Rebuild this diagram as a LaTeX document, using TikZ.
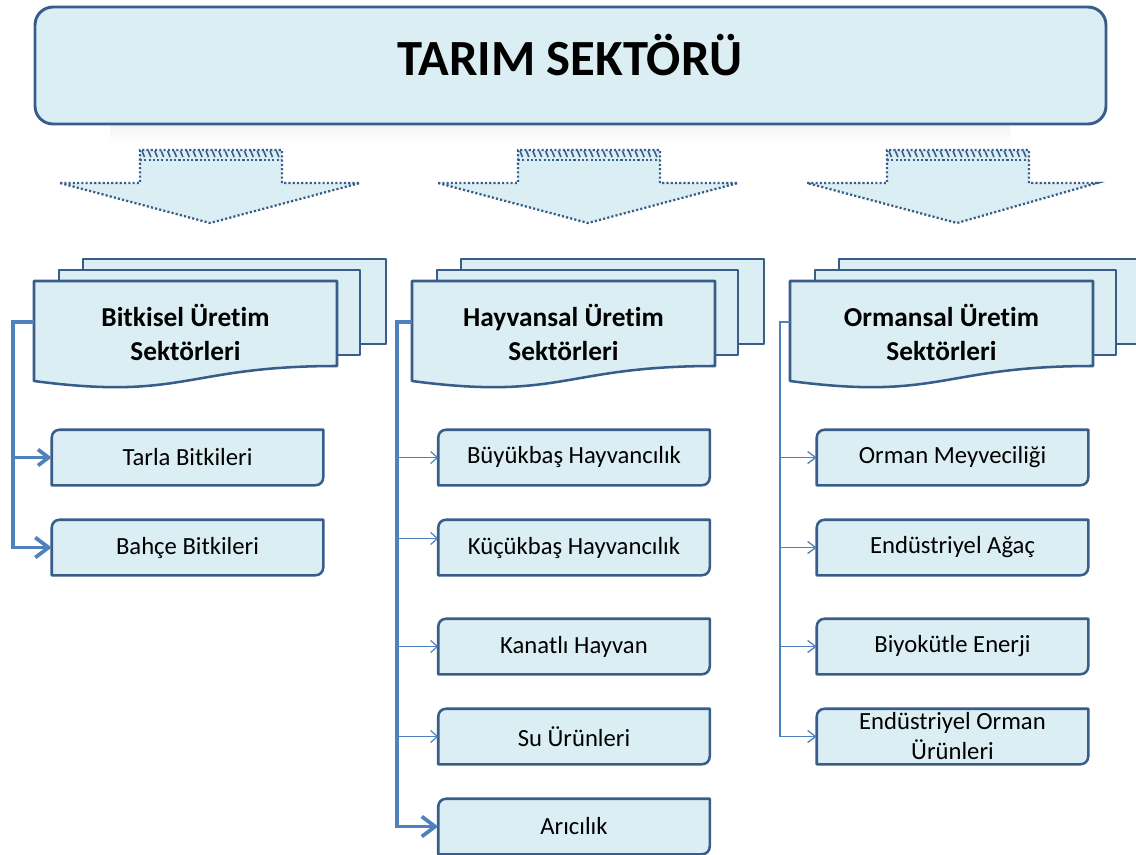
\documentclass[tikz,border=0pt]{standalone}
\usepackage{fontspec}
\setmainfont{Carlito}[Ligatures=NoCommon]
\usetikzlibrary{arrows.meta,calc}
\definecolor{fillc}{HTML}{DBEEF4}
\definecolor{bordc}{HTML}{385D8A}
\definecolor{connc}{HTML}{4F81BD}
\pgfdeclarelayer{bg}
\pgfsetlayers{bg,main}
\tikzset{
  docst/.style={draw=bordc, fill=fillc, line width=1.9pt, line join=round},
  leafst/.style={draw=bordc, fill=fillc, line width=1.9pt, line join=round},
  doctext/.style={font=\fontsize{20.5}{25.5}\selectfont\bfseries, align=center, minimum width=226.5pt, minimum height=76.5pt, inner sep=0pt},
  leaftext/.style={font=\fontsize{18.5}{22.5}\selectfont, align=center, minimum width=203.25pt, minimum height=41.25pt, inner sep=0pt},
  topbox/.style={draw=bordc, fill=fillc, line width=2.2pt, rounded corners=13.5pt, minimum width=803.25pt, minimum height=87.75pt, inner sep=0pt},
  titletext/.style={font=\fontsize{38}{44}\selectfont\bfseries},
  dotline/.style={draw=bordc, fill=fillc, line width=1.7pt, dash pattern=on 1.6pt off 1.6pt, line join=miter},
  hatch/.style={draw=bordc, line width=1.2pt},
  thinc/.style={draw=connc, line width=0.9pt, -{Straight Barb[length=5pt,width=9pt,line width=0.9pt]}},
  thinlc/.style={draw=connc, line width=1.3pt, -{Straight Barb[length=6pt,width=9pt,line width=1pt]}},
  thickc/.style={draw=connc, line width=2.8pt, -{Straight Barb[length=8pt,width=12pt]}},
  bigc/.style={draw=connc, line width=2.8pt, -{Straight Barb[length=10pt,width=15pt]}},
}
\newcommand\docstack[3]{%
  \begin{pgfonlayer}{bg}
    \draw[docst] ({#2+49},259) rectangle ({#2+352},344);
    \draw[docst] ({#2+25},270) rectangle ({#2+326},355);
    \draw[docst] (#2,281) -- ({#2+303},281) -- ({#2+303},366) .. controls ({#2+151},366) and ({#2+151},401) .. (#2,381) -- cycle;
  \end{pgfonlayer}
  \node[doctext] (#1) at ({#2+151.5},332) {#3};}
\newcommand\leaf[4]{%
  \node[leaftext] (#1) at (#2,#3) {#4};
  \begin{pgfonlayer}{bg}
    \draw[leafst] (#1.south west) -- ([yshift=-6pt]#1.north west) .. controls ([yshift=-2.5pt]#1.north west) and ([xshift=2.5pt]#1.north west) .. ([xshift=6pt]#1.north west) -- (#1.north east) -- ([yshift=6pt]#1.south east) .. controls ([yshift=2.5pt]#1.south east) and ([xshift=-2.5pt]#1.south east) .. ([xshift=-6pt]#1.south east) -- cycle;
  \end{pgfonlayer}}
\newcommand\blockarr[2]{%
  \path[dotline] ({#1+60},183) -- ({#1+140},183) -- ({#1+140},150) -- ({#1+282},150) -- ({#1+282},183) -- (#2,183) -- ({#1+210},223) -- cycle;
  \foreach \i in {0,...,21} \draw[hatch] ({#1+142+\i*6.4},151) -- ({#1+144.5+\i*6.4},157);
  \draw[hatch, dash pattern=on 1.6pt off 1.6pt] ({#1+140},160) -- ({#1+282},160);}
\begin{document}
\begin{tikzpicture}[x=0.75pt,y=-0.75pt]
\useasboundingbox (0,0) rectangle (1136,854);
\clip (0,0) rectangle (1136,854);
% faint shadow under the title box
\shade[top color=black!5, bottom color=white] (110,124) rectangle (1010,142);
% title
\node[topbox] (top) at (570.5,65.5) {};
\node[titletext] (title) at (570,55) {TARIM SEKTÖRÜ};
% block arrows
\blockarr{0}{360}
\blockarr{378}{738}
\blockarr{747}{1097}
% sector documents
\docstack{bit}{34}{Bitkisel Üretim\\Sektörleri}
\docstack{hay}{412}{Hayvansal Üretim\\Sektörleri}
\docstack{orm}{790}{Ormansal Üretim\\Sektörleri}
% leaves
\leaf{tarla}{187.5}{457.5}{Tarla Bitkileri}
\leaf{bahce}{187.5}{547.5}{Bahçe Bitkileri}
\leaf{buyuk}{574}{457.5}{Büyükbaş Hayvancılık}
\leaf{kucuk}{574}{547.5}{Küçükbaş Hayvancılık}
\leaf{kanat}{574}{646.5}{Kanatlı Hayvan}
\leaf{su}{574}{736.5}{Su Ürünleri}
\leaf{ari}{574}{826.5}{Arıcılık}
\leaf{meyve}{952.5}{457.5}{Orman Meyveciliği}
\leaf{agac}{952.5}{547.5}{Endüstriyel Ağaç}
\leaf{biyo}{952.5}{646.5}{Biyokütle Enerji}
\leaf{endor}{952.5}{736.5}{Endüstriyel Orman\\Ürünleri}
% connectors column 1
\draw[thickc] ([yshift=7.5pt]bit.west) -- ++(-15.75pt,0) |- (tarla.west);
\draw[bigc] ([yshift=7.5pt]bit.west) -- ++(-15.75pt,0) |- (bahce.west);
% connectors column 2
\draw[thinc] ([yshift=7.5pt]hay.west) -- ++(-11.25pt,0) |- (buyuk.west);
\draw[thinc] ([yshift=7.5pt]hay.west) -- ++(-11.25pt,0) |- ([yshift=6.75pt]kucuk.west);
\draw[thinc] ([yshift=7.5pt]hay.west) -- ++(-11.25pt,0) |- (kanat.west);
\draw[thinc] ([yshift=7.5pt]hay.west) -- ++(-11.25pt,0) |- (su.west);
\draw[bigc] ([yshift=7.5pt]hay.west) -- ++(-11.25pt,0) |- (ari.west);
% connectors column 3
\draw[thinlc] ([yshift=7.5pt]orm.west) -- ++(-7.5pt,0) |- (meyve.west);
\draw[thinlc] ([yshift=7.5pt]orm.west) -- ++(-7.5pt,0) |- (agac.west);
\draw[thinlc] ([yshift=7.5pt]orm.west) -- ++(-7.5pt,0) |- (biyo.west);
\draw[thinlc] ([yshift=7.5pt]orm.west) -- ++(-7.5pt,0) |- (endor.west);
\end{tikzpicture}
\end{document}
